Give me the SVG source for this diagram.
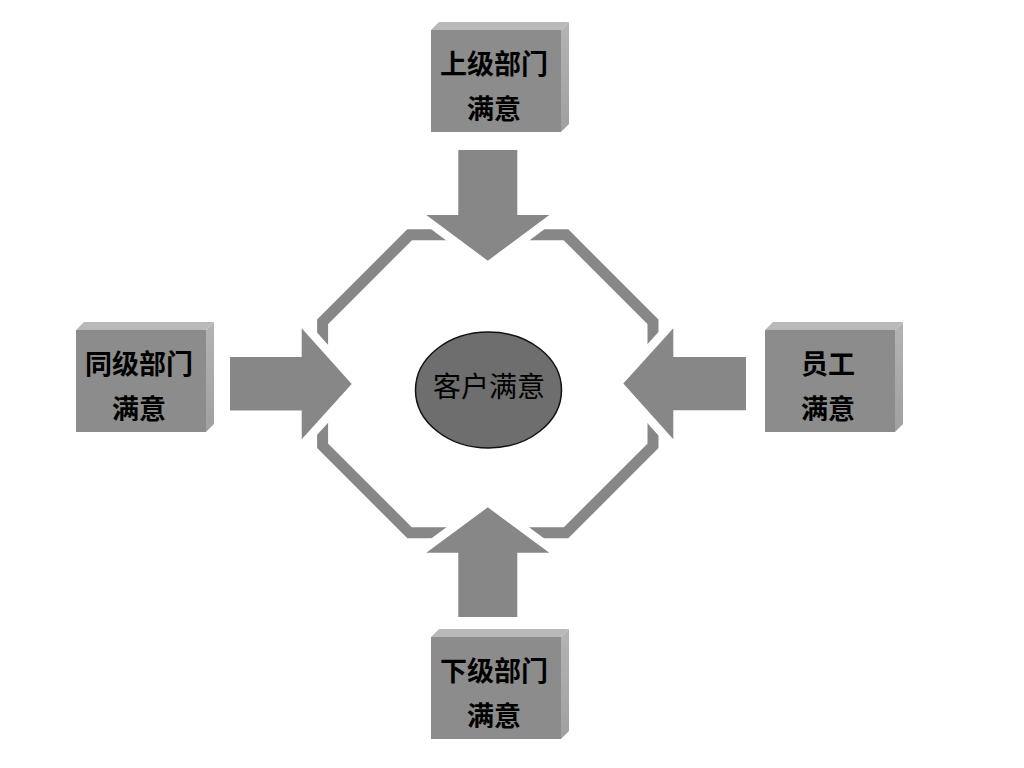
<svg xmlns="http://www.w3.org/2000/svg" width="1024" height="768" viewBox="0 0 1024 768">
  <defs>
    <style>
      .face { fill: #8c8c8c; }
      .top { fill: #b9b9b9; }
      .side { fill: url(#sideGrad); }
      .lbl { font-family: "Noto Sans CJK SC", "Liberation Sans", sans-serif; font-size: 27px; font-weight: bold; fill: #000; text-anchor: middle; }
      .arrow { fill: #878787; stroke: #ffffff; stroke-width: 17; stroke-linejoin: miter; paint-order: stroke; }
      .ring { fill: none; stroke: #878787; stroke-width: 11; stroke-linejoin: miter; }
    </style>
    <linearGradient id="sideGrad" x1="0" y1="0" x2="0" y2="1">
      <stop offset="0" stop-color="#b4b4b4"/>
      <stop offset="1" stop-color="#a0a0a0"/>
    </linearGradient>
  </defs>
  <rect width="1024" height="768" fill="#ffffff"/>

  <g id="connectors">
    <polygon class="ring" points="409.6,234.8 566,234.8 653,321.8 653,445.8 566,532.8 409.6,532.8 322.6,445.8 322.6,321.8"/>
    <polygon id="arrow-top" class="arrow" points="458.3,150 517.3,150 517.3,215 549.3,215 487.8,260.7 426.3,215 458.3,215"/>
    <polygon id="arrow-bottom" class="arrow" points="458.3,617 517.3,617 517.3,552.7 549.3,552.7 487.8,507.3 426.3,552.7 458.3,552.7"/>
    <polygon id="arrow-left" class="arrow" points="230,357 301.7,357 301.7,328.3 351.7,384 301.7,439.3 301.7,410.5 230,410.5"/>
    <polygon id="arrow-right" class="arrow" points="746,357 673.3,357 673.3,328.3 623.3,383.6 673.3,439.3 673.3,410.3 746,410.3"/>
  </g>

  <g id="node-center">
    <ellipse cx="488.5" cy="390" rx="73" ry="58" fill="#6e6e6e" stroke="#111111" stroke-width="1.5"/>
    <text x="489" y="397" font-family="Noto Sans CJK SC, Liberation Sans, sans-serif" font-size="28" fill="#000" text-anchor="middle">客户满意</text>
  </g>

  <g id="node-top" transform="translate(431,30)">
    <polygon class="top" points="0,0 8,-8 138,-8 130,0"/>
    <polygon class="side" points="130,0 138,-8 138,94 130,102"/>
    <rect class="face" x="0" y="0" width="130" height="102"/>
    <text class="lbl" x="63" y="44">上级部门</text>
    <text class="lbl" x="63" y="89">满意</text>
  </g>

  <g id="node-left" transform="translate(76,330)">
    <polygon class="top" points="0,0 8,-8 138,-8 130,0"/>
    <polygon class="side" points="130,0 138,-8 138,94 130,102"/>
    <rect class="face" x="0" y="0" width="130" height="102"/>
    <text class="lbl" x="63" y="44">同级部门</text>
    <text class="lbl" x="63" y="89">满意</text>
  </g>

  <g id="node-right" transform="translate(765,330)">
    <polygon class="top" points="0,0 8,-8 138,-8 130,0"/>
    <polygon class="side" points="130,0 138,-8 138,94 130,102"/>
    <rect class="face" x="0" y="0" width="130" height="102"/>
    <text class="lbl" x="63" y="44">员工</text>
    <text class="lbl" x="63" y="89">满意</text>
  </g>

  <g id="node-bottom" transform="translate(431,637)">
    <polygon class="top" points="0,0 8,-8 138,-8 130,0"/>
    <polygon class="side" points="130,0 138,-8 138,94 130,102"/>
    <rect class="face" x="0" y="0" width="130" height="102"/>
    <text class="lbl" x="63" y="44">下级部门</text>
    <text class="lbl" x="63" y="89">满意</text>
  </g>
</svg>
